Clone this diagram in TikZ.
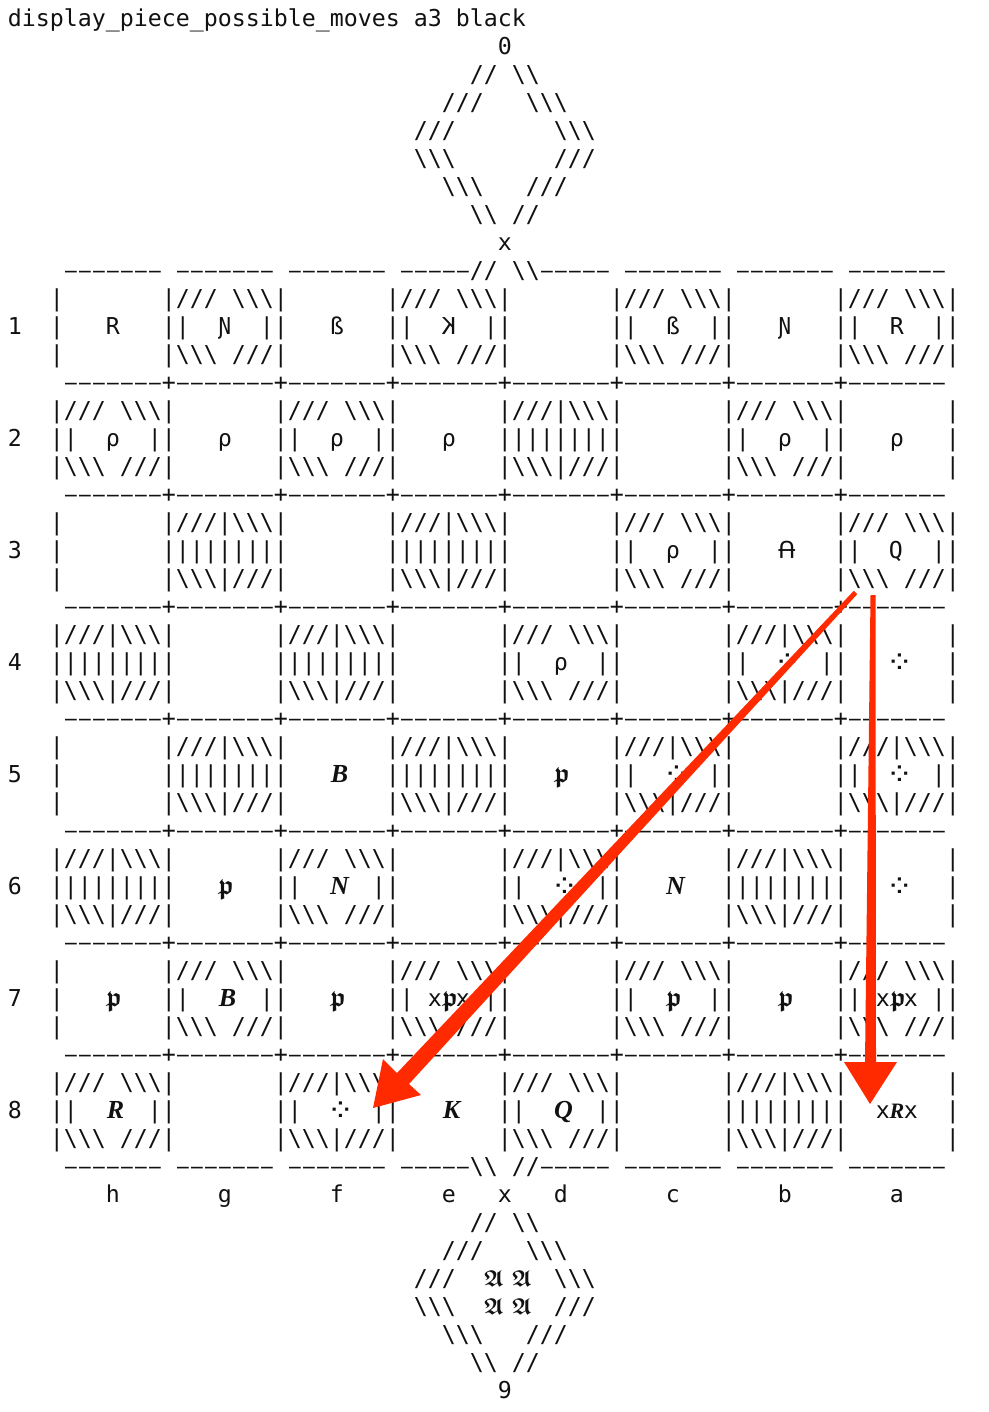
\documentclass[tikz,border=0pt]{standalone}
\usepackage{fontspec}
\usetikzlibrary{calc}
\newfontfamily\mono{DejaVu Sans Mono}
\newfontfamily\dsans{DejaVu Sans}
\newfontfamily\bserif{Liberation Serif}[BoldItalicFont=* Bold Italic]
\definecolor{ink}{HTML}{111111}
\definecolor{redmark}{HTML}{FF2A00}
\newlength\cw \setlength\cw{14pt}
\newcommand\Bs{\char92 }
\newcommand\pch[1]{\makebox[\cw][c]{#1}}
\newcommand\frk[1]{\pch{\hspace*{6pt}{\usefont{U}{euf}{b}{n}\fontsize{23}{28}\selectfont #1}}}
\newcommand\bp{\pch{\hspace*{2pt}{\usefont{U}{euf}{b}{n}\fontsize{27}{28}\selectfont p}}}
\newcommand\bi[1]{\pch{\hspace*{5pt}{\fontsize{26}{28}\bserif\bfseries\itshape #1}}}
\newcommand\bix[1]{\pch{{\fontsize{22}{28}\bserif\bfseries\itshape #1}}}
\newcommand\fdots{\pch{\hspace*{7pt}\raisebox{-3pt}{\fontsize{32}{28}\dsans\char"2058}}}
\newcommand\pA{\pch{\hspace*{4pt}\rotatebox[origin=c]{180}{\dsans\char"0244}}}
\newcommand\pK{\pch{\reflectbox{K}}}
\newcommand\pN{\pch{\char"019D}}
\newcommand\pB{\pch{ß}}
\newcommand\pR{\pch{R}}
\newcommand\pQ{\pch{\hspace*{-2pt}Q}}
\newcommand\pP{\pch{ρ}}
% cell parts
\newcommand\cW{~~~~~~~}
\newcommand\cHt{///~\Bs\Bs\Bs}
\newcommand\cHb{\Bs\Bs\Bs~///}
\newcommand\cFt{///|\Bs\Bs\Bs}
\newcommand\cFb{\Bs\Bs\Bs|///}
\newcommand\cFm{|||||||}
\newcommand\cWm[1]{~~\makebox[3\cw][c]{#1}~~}
\newcommand\cHm[1]{|~\makebox[3\cw][c]{#1}~|}
\newcommand\dsh{\makebox[\cw][c]{\scalebox{0.84}[1]{–}}}
\newcommand\Dd{\dsh\dsh\dsh\dsh\dsh\dsh\dsh}
\newcommand\Df{\dsh\dsh\dsh\dsh\dsh}
\newcommand\sepln{~~~~\Dd+\Dd+\Dd+\Dd+\Dd+\Dd+\Dd+\Dd}
\tikzset{
  txt/.style={anchor=base west,inner sep=0pt,outer sep=0pt,text=ink,font=\mono\fontsize{23.25}{28}\selectfont},
  redarrow/.style={fill=redmark,draw=none}
}
\newcommand\Ln[3]{\node[txt] (#1) at (8,{18+28*#2+8.6}) {#3};}
\begin{document}
\begin{tikzpicture}[x=1pt,y=-1pt]
\useasboundingbox (0,0) rectangle (988,1412);
\fill[white] (0,0) rectangle (988,1412);
\Ln{head}{0}{display\_piece\_possible\_moves a3 black}
\Ln{t1}{1}{~~~~~~~~~~~~~~~~~~~~~~~~~~~~~~~~~~~0}
\Ln{t2}{2}{~~~~~~~~~~~~~~~~~~~~~~~~~~~~~~~~~//~\Bs\Bs}
\Ln{t3}{3}{~~~~~~~~~~~~~~~~~~~~~~~~~~~~~~~///~~~\Bs\Bs\Bs}
\Ln{t4}{4}{~~~~~~~~~~~~~~~~~~~~~~~~~~~~~///~~~~~~~\Bs\Bs\Bs}
\Ln{t5}{5}{~~~~~~~~~~~~~~~~~~~~~~~~~~~~~\Bs\Bs\Bs~~~~~~~///}
\Ln{t6}{6}{~~~~~~~~~~~~~~~~~~~~~~~~~~~~~~~\Bs\Bs\Bs~~~///}
\Ln{t7}{7}{~~~~~~~~~~~~~~~~~~~~~~~~~~~~~~~~~\Bs\Bs~//}
\Ln{t8}{8}{~~~~~~~~~~~~~~~~~~~~~~~~~~~~~~~~~~~x}
\Ln{top}{9}{~~~~\Dd~\Dd~\Dd~\Df//~\Bs\Bs\Df~\Dd~\Dd~\Dd}
% rank 1
\Ln{r1a}{10}{~~~|\cW|\cHt|\cW|\cHt|\cW|\cHt|\cW|\cHt|}
\Ln{r1b}{11}{1~~|\cWm{\pR}|\cHm{\pN}|\cWm{\pB}|\cHm{\pK}|\cWm{}|\cHm{\pB}|\cWm{\pN}|\cHm{\pR}|}
\Ln{r1c}{12}{~~~|\cW|\cHb|\cW|\cHb|\cW|\cHb|\cW|\cHb|}
\Ln{s1}{13}{\sepln}
% rank 2
\Ln{r2a}{14}{~~~|\cHt|\cW|\cHt|\cW|\cFt|\cW|\cHt|\cW|}
\Ln{r2b}{15}{2~~|\cHm{\pP}|\cWm{\pP}|\cHm{\pP}|\cWm{\pP}|\cFm|\cWm{}|\cHm{\pP}|\cWm{\pP}|}
\Ln{r2c}{16}{~~~|\cHb|\cW|\cHb|\cW|\cFb|\cW|\cHb|\cW|}
\Ln{s2}{17}{\sepln}
% rank 3
\Ln{r3a}{18}{~~~|\cW|\cFt|\cW|\cFt|\cW|\cHt|\cW|\cHt|}
\Ln{r3b}{19}{3~~|\cWm{}|\cFm|\cWm{}|\cFm|\cWm{}|\cHm{\pP}|\cWm{\pA}|\cHm{\pQ}|}
\Ln{r3c}{20}{~~~|\cW|\cFb|\cW|\cFb|\cW|\cHb|\cW|\cHb|}
\Ln{s3}{21}{\sepln}
% rank 4
\Ln{r4a}{22}{~~~|\cFt|\cW|\cFt|\cW|\cHt|\cW|\cFt|\cW|}
\Ln{r4b}{23}{4~~|\cFm|\cWm{}|\cFm|\cWm{}|\cHm{\pP}|\cWm{}|\cHm{\fdots}|\cWm{\fdots}|}
\Ln{r4c}{24}{~~~|\cFb|\cW|\cFb|\cW|\cHb|\cW|\cFb|\cW|}
\Ln{s4}{25}{\sepln}
% rank 5
\Ln{r5a}{26}{~~~|\cW|\cFt|\cW|\cFt|\cW|\cFt|\cW|\cFt|}
\Ln{r5b}{27}{5~~|\cWm{}|\cFm|\cWm{\bi{B}}|\cFm|\cWm{\bp}|\cHm{\fdots}|\cWm{}|\cHm{\fdots}|}
\Ln{r5c}{28}{~~~|\cW|\cFb|\cW|\cFb|\cW|\cFb|\cW|\cFb|}
\Ln{s5}{29}{\sepln}
% rank 6
\Ln{r6a}{30}{~~~|\cFt|\cW|\cHt|\cW|\cFt|\cW|\cFt|\cW|}
\Ln{r6b}{31}{6~~|\cFm|\cWm{\bp}|\cHm{\bi{N}}|\cWm{}|\cHm{\fdots}|\cWm{\bi{N}}|\cFm|\cWm{\fdots}|}
\Ln{r6c}{32}{~~~|\cFb|\cW|\cHb|\cW|\cFb|\cW|\cFb|\cW|}
\Ln{s6}{33}{\sepln}
% rank 7
\Ln{r7a}{34}{~~~|\cW|\cHt|\cW|\cHt|\cW|\cHt|\cW|\cHt|}
\Ln{r7b}{35}{7~~|\cWm{\bp}|\cHm{\bi{B}}|\cWm{\bp}|\cHm{x\bp x}|\cWm{}|\cHm{\bp}|\cWm{\bp}|\cHm{x\bp x}|}
\Ln{r7c}{36}{~~~|\cW|\cHb|\cW|\cHb|\cW|\cHb|\cW|\cHb|}
\Ln{s7}{37}{\sepln}
% rank 8
\Ln{r8a}{38}{~~~|\cHt|\cW|\cFt|\cW|\cHt|\cW|\cFt|\cW|}
\Ln{r8b}{39}{8~~|\cHm{\bi{R}}|\cWm{}|\cHm{\fdots}|\cWm{\bi{K}}|\cHm{\bi{Q}}|\cWm{}|\cFm|\cWm{x\bix{R}x}|}
\Ln{r8c}{40}{~~~|\cHb|\cW|\cFb|\cW|\cHb|\cW|\cFb|\cW|}
\Ln{bot}{41}{~~~~\Dd~\Dd~\Dd~\Df\Bs\Bs~//\Df~\Dd~\Dd~\Dd}
\Ln{files}{42}{~~~~~~~h~~~~~~~g~~~~~~~f~~~~~~~e~~~x~~~d~~~~~~~c~~~~~~~b~~~~~~~a}
\Ln{b1}{43}{~~~~~~~~~~~~~~~~~~~~~~~~~~~~~~~~~//~\Bs\Bs}
\Ln{b2}{44}{~~~~~~~~~~~~~~~~~~~~~~~~~~~~~~~///~~~\Bs\Bs\Bs}
\Ln{b3}{45}{~~~~~~~~~~~~~~~~~~~~~~~~~~~~~///~~\frk{A}~\frk{A}~~\Bs\Bs\Bs}
\Ln{b4}{46}{~~~~~~~~~~~~~~~~~~~~~~~~~~~~~\Bs\Bs\Bs~~\frk{A}~\frk{A}~~///}
\Ln{b5}{47}{~~~~~~~~~~~~~~~~~~~~~~~~~~~~~~~\Bs\Bs\Bs~~~///}
\Ln{b6}{48}{~~~~~~~~~~~~~~~~~~~~~~~~~~~~~~~~~\Bs\Bs~//}
\Ln{b7}{49}{~~~~~~~~~~~~~~~~~~~~~~~~~~~~~~~~~~~9}
% red arrows
\coordinate (fromA) at (855.5,592.5);
\coordinate (toF) at (373,1108);
\coordinate (fromB) at (873,595);
\coordinate (toA) at (870,1104);
\fill[redarrow] ($(fromA)+(1.7,1.7)$) -- ($(fromA)+(-1.7,-1.7)$) -- (397,1073) -- (383,1059) -- (toF) -- (421,1095) -- (409,1084) -- cycle;
\fill[redarrow] ($(fromB)+(-2.5,0)$) -- (865,1062) -- (844,1062) -- (toA) -- (897,1062) -- (876,1062) -- ($(fromB)+(2.5,0)$) -- cycle;
\end{tikzpicture}
\end{document}
